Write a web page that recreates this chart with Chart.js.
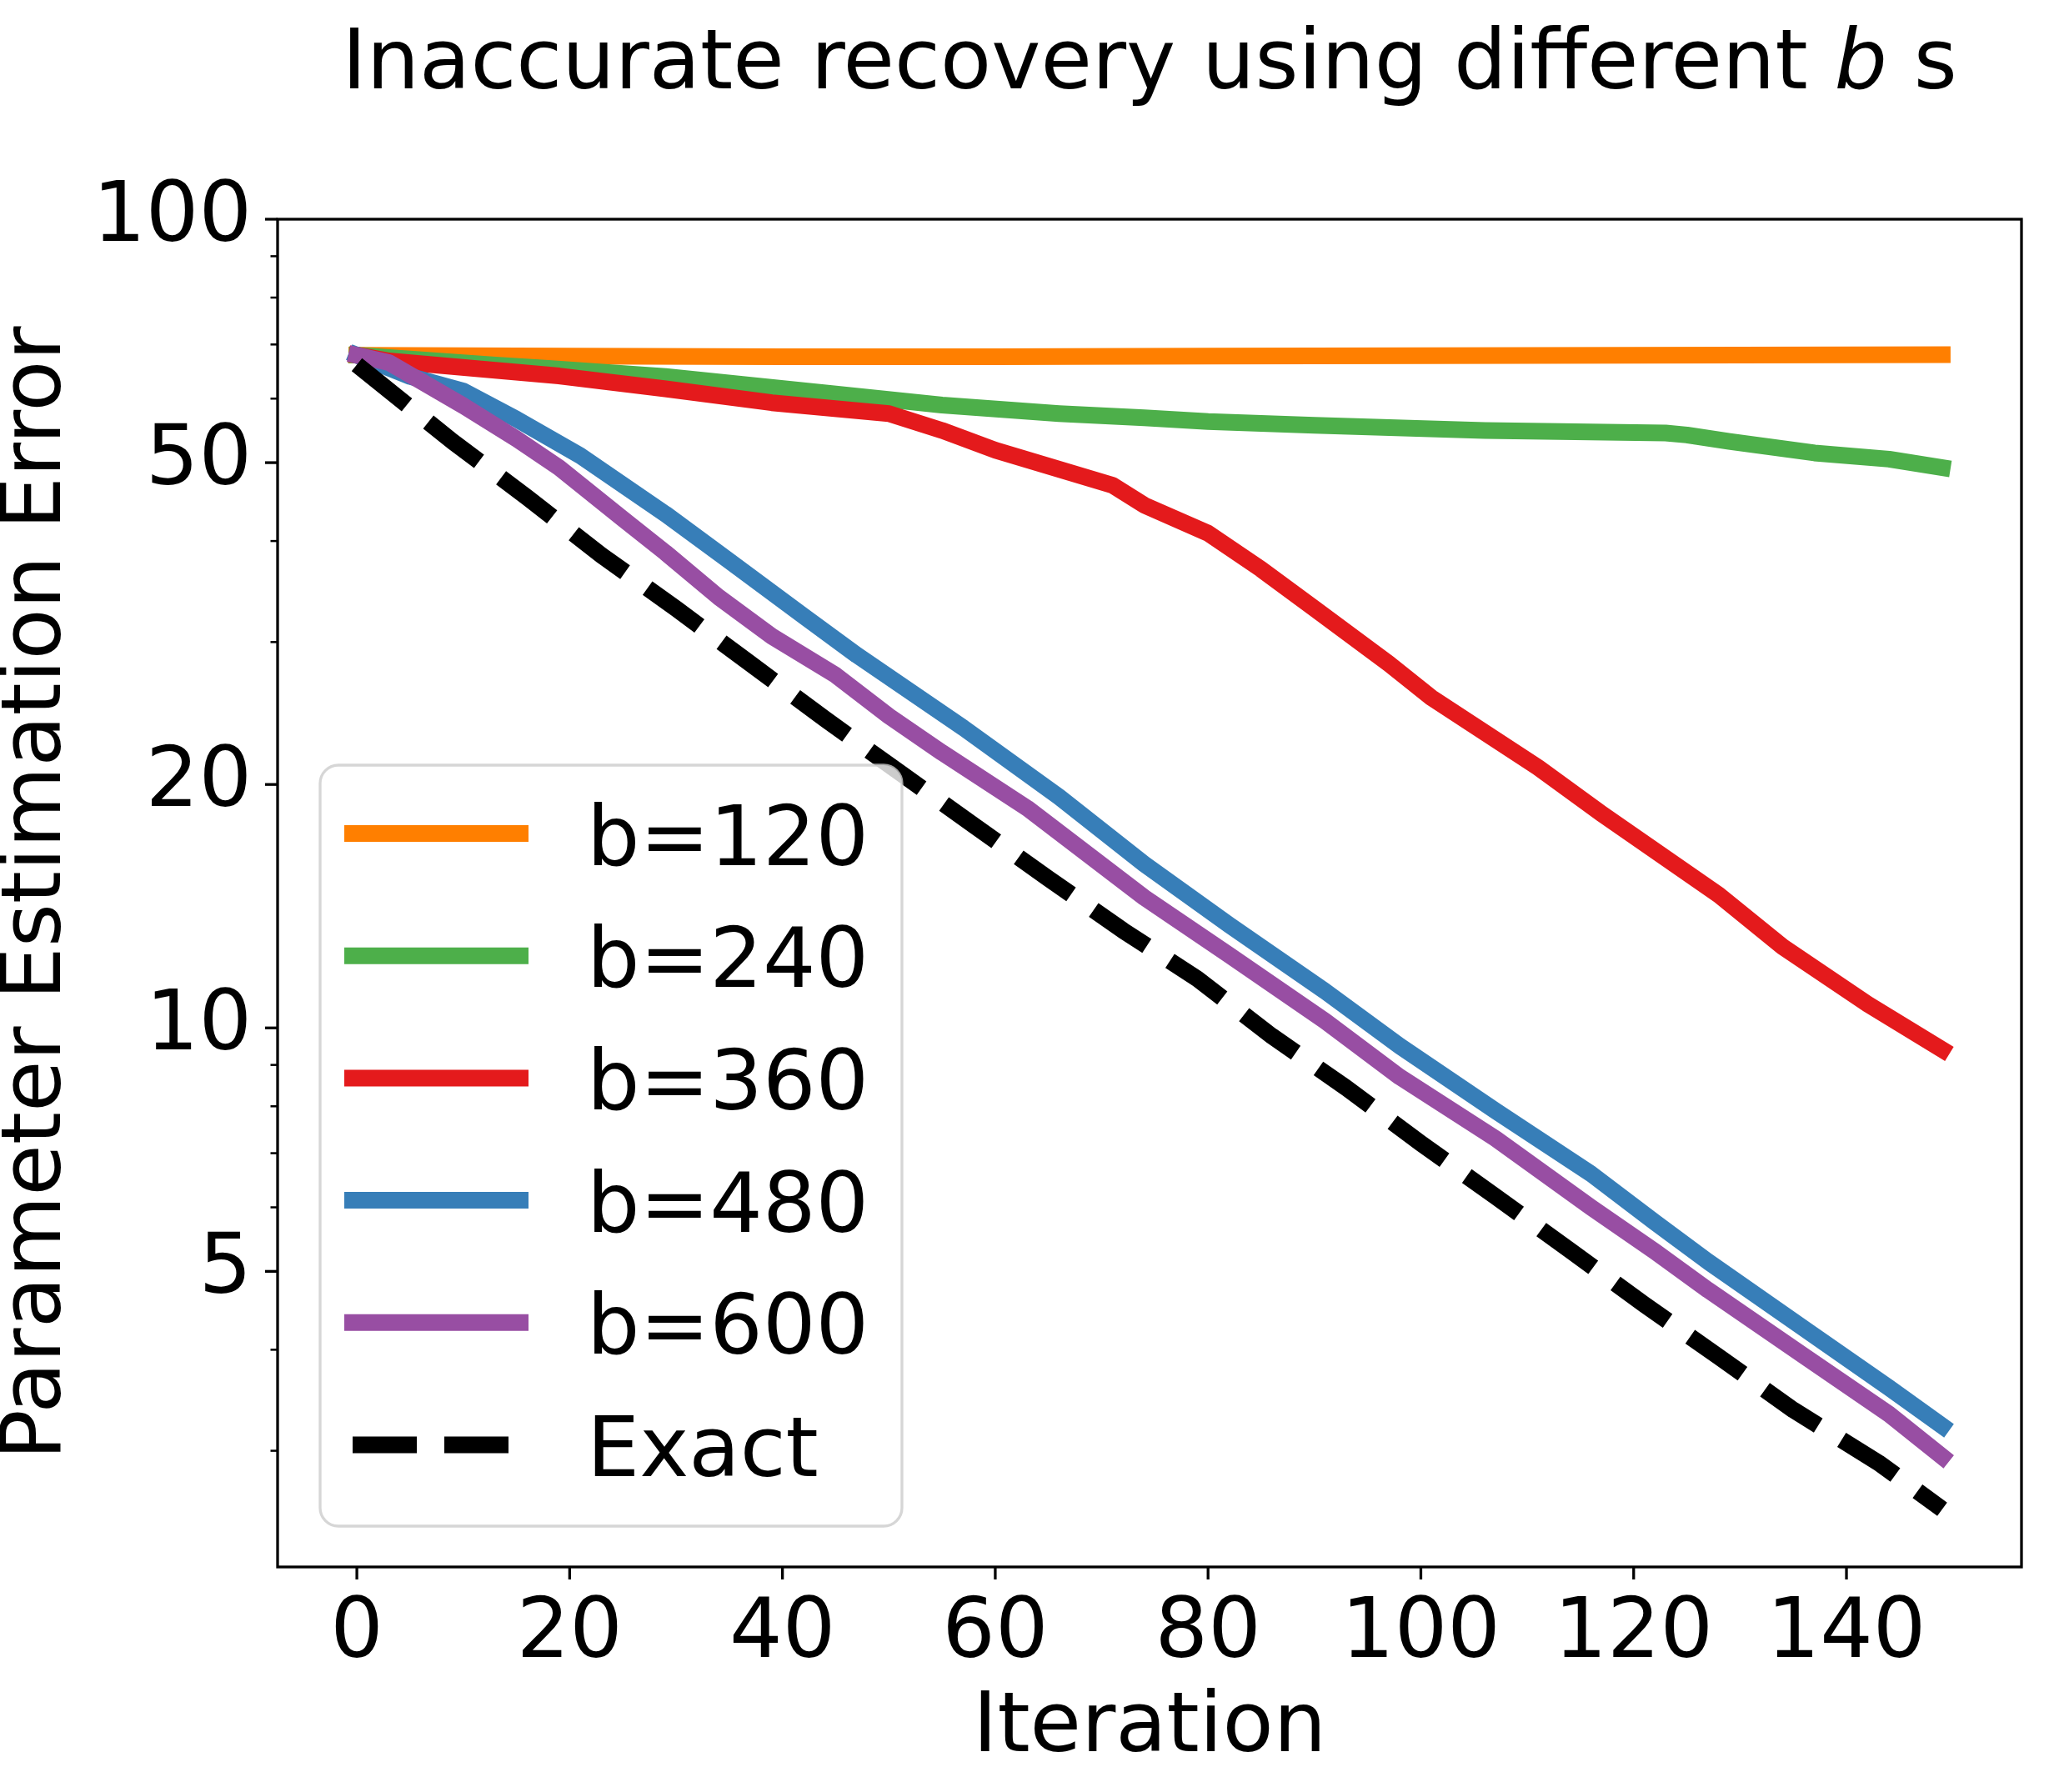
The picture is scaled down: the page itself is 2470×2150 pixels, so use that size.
<!DOCTYPE html>
<html>
<head>
<meta charset="utf-8">
<title>Inaccurate recovery using different b s</title>
<script src="https://cdn.jsdelivr.net/npm/chart.js@4.4.1/dist/chart.umd.min.js"></script>
<style>
	html, body { margin: 0; padding: 0; background: #fff; }
	#chart-wrap { width: 2470px; height: 2150px; }
</style>
</head>
<body>
<div id="chart-wrap"><canvas id="chart" width="2470" height="2150"></canvas></div>
<script>

	// values (iteration / parameter estimation error)
	const iterB120 = [0, 20, 40, 60, 80, 100, 120, 149];
	const errB120  = [67.9, 67.7, 67.6, 67.6, 67.7, 67.8, 67.9, 68.0];

	const iterB240 = [0, 13, 18, 29, 45, 55, 66, 74, 80, 90, 106, 123, 125, 129, 137, 144, 149];
	const errB240  = [67.9, 66.0, 65.4, 63.9, 60.8, 58.9, 57.5, 56.8, 56.2, 55.6, 54.8, 54.4, 54.1, 53.1, 51.4, 50.5, 49.3];

	const iterB360 = [0, 3, 11, 19, 29, 39, 50, 55, 60, 71, 74, 80, 85, 90, 97, 101, 111, 117, 128, 134, 142, 149];
	const errB360  = [67.9, 66.8, 65.4, 64.0, 61.7, 59.3, 57.5, 54.8, 51.8, 46.9, 44.3, 40.9, 36.9, 33.0, 28.2, 25.6, 21.0, 18.4, 14.6, 12.6, 10.7, 9.4];

	const iterB480 = [0, 5, 10, 15, 21, 29, 35, 42, 47, 57, 66, 74, 82, 91, 98, 107, 116, 122, 127, 136, 144, 149];
	const errB480  = [67.9, 63.9, 61.3, 56.6, 51.0, 43.2, 37.8, 32.3, 28.9, 23.5, 19.3, 15.95, 13.4, 11.1, 9.5, 7.9, 6.6, 5.75, 5.14, 4.25, 3.59, 3.22];

	const iterB600 = [0, 3, 10, 15, 19, 25, 29, 34, 39, 45, 50, 55, 63, 74, 82, 91, 98, 107, 116, 122, 127, 136, 144, 149];
	const errB600  = [67.9, 66.5, 58.8, 53.5, 49.3, 42.6, 38.7, 34.1, 30.5, 27.3, 24.3, 21.9, 18.7, 14.5, 12.3, 10.2, 8.7, 7.3, 6.0, 5.29, 4.74, 3.93, 3.33, 2.95];

	const iterExact = [0, 9, 16, 23, 30, 37, 44, 51, 58, 65, 72, 79, 86, 93, 100, 107, 114, 121, 128, 135, 143, 149];
	const errExact  = [66.1, 53.1, 45.3, 38.4, 33.0, 28.2, 24.1, 20.7, 17.8, 15.3, 13.2, 11.5, 9.77, 8.43, 7.20, 6.19, 5.31, 4.55, 3.92, 3.37, 2.90, 2.54];

	const seriesLabels = ['b=120', 'b=240', 'b=360', 'b=480', 'b=600', 'Exact'];

	const xTickValues = [0, 20, 40, 60, 80, 100, 120, 140];
	const yTickValues = [3, 4, 5, 6, 7, 8, 9, 10, 20, 30, 40, 50, 60, 70, 80, 90, 100];
	const yMajorTicks = [5, 10, 20, 50, 100];

	const titleParts = [
		{ text: 'Inaccurate recovery using different ', italic: false },
		{ text: 'b', italic: true },
		{ text: ' s', italic: false }
	];

	const FONT = '"DejaVu Sans", sans-serif';
	Chart.defaults.font.family = FONT;
	Chart.defaults.color = '#000';

	function toPoints(xs, ys) {
		return xs.map((x, i) => ({ x: x, y: ys[i] }));
	}

	function lineDataset(label, xs, ys, color, order, dashed) {
		return {
			label: label,
			data: toPoints(xs, ys),
			borderColor: color,
			backgroundColor: color,
			borderWidth: 20,
			borderDash: dashed ? [77, 33] : undefined,
			borderCapStyle: dashed ? 'butt' : 'square',
			borderJoinStyle: 'round',
			pointRadius: 0,
			tension: 0,
			fill: false,
			order: order
		};
	}

	/**
	 * legend box in the lower left of the axes
	 */
	function drawLegend(chart) {
		let ctx = chart.ctx;
		let area = chart.chartArea;
		let left = area.left + 51;
		let top = area.top + 655;

		ctx.save();
		ctx.beginPath();
		ctx.roundRect(left, top, 698, 913, 22);
		ctx.fillStyle = 'rgba(255,255,255,0.8)';
		ctx.fill();
		ctx.lineWidth = 3.3;
		ctx.strokeStyle = 'rgba(204,204,204,0.8)';
		ctx.stroke();

		ctx.font = '100px ' + FONT;
		ctx.textBaseline = 'alphabetic';
		ctx.textAlign = 'left';
		chart.data.datasets.forEach((ds, i) => {
			let y = top + 82 + i * 146.7;
			let dashed = !!ds.borderDash;
			ctx.beginPath();
			ctx.strokeStyle = ds.borderColor;
			ctx.lineWidth = ds.borderWidth;
			ctx.lineCap = 'butt';
			ctx.setLineDash(dashed ? ds.borderDash : []);
			ctx.moveTo(left + (dashed ? 39 : 29), y);
			ctx.lineTo(left + (dashed ? 227 : 250), y);
			ctx.stroke();
			ctx.setLineDash([]);
			ctx.fillStyle = '#000';
			ctx.fillText(ds.label, left + 320, y + 37.5);
		});
		ctx.restore();
	}

	/**
	 * title with an italic b, centred over the axes
	 */
	function drawTitle(chart) {
		let ctx = chart.ctx;
		let area = chart.chartArea;
		ctx.save();
		ctx.textBaseline = 'alphabetic';
		ctx.textAlign = 'left';
		ctx.fillStyle = '#000';
		let total = 0;
		titleParts.forEach(p => {
			ctx.font = (p.italic ? 'italic ' : '') + '100px ' + FONT;
			p.width = ctx.measureText(p.text).width;
			total += p.width;
		});
		let x = (area.left + area.right) / 2 - total / 2;
		titleParts.forEach(p => {
			ctx.font = (p.italic ? 'italic ' : '') + '100px ' + FONT;
			ctx.fillText(p.text, x, 106);
			x += p.width;
		});
		ctx.restore();
	}

	const framePlugin = {
		id: 'frame',
		afterDatasetsDraw(chart) {
			let ctx = chart.ctx;
			let area = chart.chartArea;
			let xs = chart.scales.x;
			let ys = chart.scales.y;
			ctx.save();
			ctx.strokeStyle = '#000';
			ctx.lineCap = 'butt';
			ctx.lineWidth = 3.3;
			xTickValues.forEach(v => {
				let px = xs.getPixelForValue(v);
				ctx.beginPath();
				ctx.moveTo(px, area.bottom);
				ctx.lineTo(px, area.bottom + 15);
				ctx.stroke();
			});
			yTickValues.forEach(v => {
				let major = yMajorTicks.includes(v);
				let py = ys.getPixelForValue(v);
				ctx.lineWidth = major ? 3.3 : 2.5;
				ctx.beginPath();
				ctx.moveTo(area.left - (major ? 15 : 8.5), py);
				ctx.lineTo(area.left, py);
				ctx.stroke();
			});
			ctx.lineWidth = 3.3;
			ctx.strokeRect(area.left, area.top, area.right - area.left, area.bottom - area.top);
			ctx.restore();
		},
		afterDraw(chart) {
			drawLegend(chart);
			drawTitle(chart);
		}
	};

	let config = {
		type: 'line',
		data: {
			datasets: [
				lineDataset(seriesLabels[0], iterB120, errB120, '#ff7f00', 5, false),
				lineDataset(seriesLabels[1], iterB240, errB240, '#4daf4a', 4, false),
				lineDataset(seriesLabels[2], iterB360, errB360, '#e41a1c', 3, false),
				lineDataset(seriesLabels[3], iterB480, errB480, '#377eb8', 2, false),
				lineDataset(seriesLabels[4], iterB600, errB600, '#984ea3', 1, false),
				lineDataset(seriesLabels[5], iterExact, errExact, '#000000', 0, true)
			]
		},
		options: {
			responsive: false,
			animation: false,
			devicePixelRatio: 1,
			layout: { padding: { top: 263, right: 45, bottom: 0, left: 0 } },
			plugins: {
				legend: { display: false },
				title: { display: false },
				tooltip: { enabled: false }
			},
			scales: {
				x: {
					type: 'linear',
					min: -7.45,
					max: 156.45,
					afterBuildTicks: axis => { axis.ticks = xTickValues.map(v => ({ value: v })); },
					afterFit: axis => { axis.height = 270; },
					grid: { display: false },
					border: { display: false },
					ticks: {
						autoSkip: false,
						maxRotation: 0,
						padding: 24,
						font: { size: 100, lineHeight: 1 },
						callback: v => String(v)
					},
					title: {
						display: true,
						text: 'Iteration',
						font: { size: 100, lineHeight: 1 },
						padding: { top: 0, bottom: 25 }
					}
				},
				y: {
					type: 'logarithmic',
					min: 2.155,
					max: 100,
					afterBuildTicks: axis => { axis.ticks = yTickValues.map(v => ({ value: v })); },
					afterFit: axis => { axis.width = 333; },
					grid: { display: false },
					border: { display: false },
					ticks: {
						autoSkip: false,
						padding: 23,
						font: { size: 100, lineHeight: 1 },
						callback: v => (yMajorTicks.includes(v) ? String(v) : '')
					},
					title: {
						display: true,
						text: 'Parameter Estimation Error',
						font: { size: 100, lineHeight: 0.92 },
						padding: { top: 0, bottom: 0 }
					}
				}
			}
		},
		plugins: [framePlugin]
	};

	new Chart(document.getElementById('chart').getContext('2d'), config);

</script>
</body>
</html>
